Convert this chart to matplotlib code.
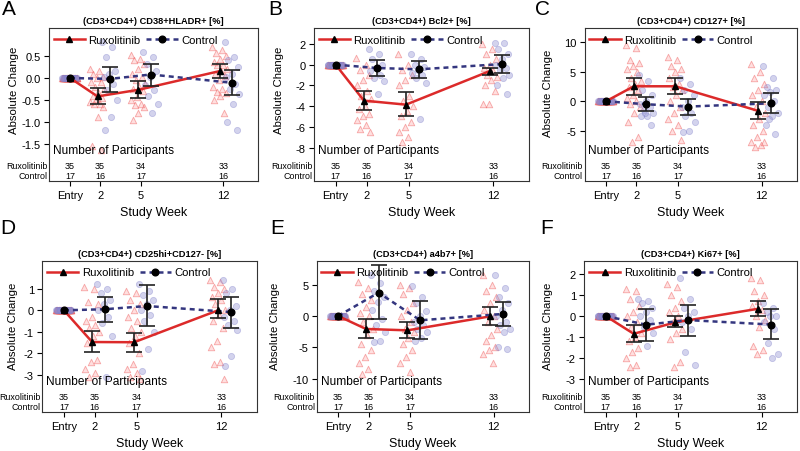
import matplotlib
matplotlib.use("Agg")
import matplotlib.pyplot as plt
import matplotlib.transforms as mtransforms
from matplotlib.lines import Line2D
import numpy as np

plt.rcParams['font.family'] = ['Liberation Sans', 'DejaVu Sans']
plt.rcParams['axes.unicode_minus'] = False

# ---- data ----
week_labels = ['Entry', '2', '5', '12']
n_rux = [35, 35, 34, 33]
n_ctl = [17, 16, 17, 16]

titles = ['(CD3+CD4+) CD38+HLADR+ [%]', '(CD3+CD4+) Bcl2+ [%]', '(CD3+CD4+) CD127+ [%]',
          '(CD3+CD4+) CD25hi+CD127- [%]', '(CD3+CD4+) a4b7+ [%]', '(CD3+CD4+) Ki67+ [%]']
letters = ['A', 'B', 'C', 'D', 'E', 'F']

yticks_A = ['0.5', '0.0', '-0.5', '-1.0', '-1.5']
yticks_B = ['2', '0', '-2', '-4', '-6', '-8']
yticks_C = ['10', '5', '0', '-5']
yticks_D = ['1', '0', '-1', '-2', '-3']
yticks_E = ['5', '0', '-5', '-10']
yticks_F = ['2', '1', '0', '-1', '-2', '-3']

# mean, lower, upper (Entry, wk2, wk5, wk12)
rux_A = [[0, -0.42, -0.27, 0.16], [0, -0.60, -0.46, 0.01], [0, -0.235, -0.07, 0.33]]
ctl_A = [[0, -0.02, 0.08, -0.11], [0, -0.31, -0.19, -0.38], [0, 0.26, 0.33, 0.18]]
rux_B = [[0, -3.47, -3.86, -0.61], [0, -4.38, -4.95, -1.03], [0, -2.54, -2.67, -0.30]]
ctl_B = [[0, -0.32, -0.45, 0.06], [0, -1.13, -1.29, -0.80], [0, 0.45, 0.32, 0.90]]
rux_C = [[0, 2.55, 2.55, -1.64], [0, 1.13, 1.25, -3.0], [0, 3.9, 3.9, -0.17]]
ctl_C = [[0, -0.5, -0.9, -0.34], [0, -1.64, -2.32, -2.04], [0, 0.8, 0.45, 1.47]]
rux_D = [[0, -1.47, -1.48, 0.0], [0, -1.95, -1.95, -0.37], [0, -0.96, -1.07, 0.53]]
ctl_D = [[0, 0.05, 0.2, -0.08], [0, -0.53, -0.74, -0.8], [0, 0.62, 1.16, 0.6]]
rux_E = [[0, -2.07, -2.29, -0.05], [0, -3.56, -3.46, -1.44], [0, -0.53, -1.0, 1.44]]
ctl_E = [[0, 3.72, -0.69, 0.32], [0, -0.48, -3.72, -1.6], [0, 8.1, 2.39, 2.29]]
rux_F = [[0, -0.84, -0.30, 0.35], [0, -1.22, -0.54, 0.0], [0, -0.43, 0.02, 0.71]]
ctl_F = [[0, -0.41, -0.19, -0.40], [0, -1.2, -0.95, -1.11], [0, 0.36, 0.55, 0.32]]

# individual participant changes at weeks 2, 5, 12 (approximate readings)
rux_pts_A = [[0.2, 0.17, 0.1, 0.02, 0.0, -0.09, -0.1, -0.2, -0.25, -0.32, -0.4, -0.45, -0.47, -0.55, -0.59, -0.6, -0.66, -0.89, -1.55, -1.65],
             [0.52, 0.44, 0.4, 0.33, 0.21, 0.1, 0.02, -0.05, -0.13, -0.2, -0.24, -0.3, -0.43, -0.5, -0.59, -0.62, -0.66, -0.81, -0.97],
             [0.71, 0.63, 0.56, 0.5, 0.44, 0.37, 0.3, 0.29, 0.21, 0.15, 0.1, 0.05, -0.05, -0.2, -0.25, -0.32, -0.35, -0.4, -0.51, -0.81]]
ctl_pts_A = [[0.82, 0.71, 0.48, 0.17, 0.1, 0.02, -0.13, -0.28, -0.51, -0.89, -1.19],
             [0.6, 0.48, 0.33, 0.17, 0.02, -0.17, -0.28, -0.4, -0.59, -0.81],
             [0.82, 0.48, 0.4, 0.25, 0.1, 0.02, -0.13, -0.24, -0.36, -0.59, -1.0, -1.19]]
rux_pts_B = [[0.6, 0.0, -0.5, -1.0, -1.5, -2.0, -2.5, -3.0, -3.3, -4.0, -4.3, -4.8, -5.0, -5.3, -5.8, -6.2, -6.5],
             [1.0, 0.0, -0.5, -1.0, -1.5, -2.0, -3.0, -3.5, -4.0, -4.5, -5.0, -5.5, -6.0, -6.5, -7.0, -7.5],
             [2.0, 1.5, 1.0, 0.5, 0.0, -0.3, -0.6, -1.0, -1.2, -1.5, -2.0, -2.5, -3.8, -3.8]]
ctl_pts_B = [[1.5, 1.0, 0.5, 0.0, -0.3, -0.6, -1.0, -1.3, -1.6, -2.8],
             [1.0, 0.5, 0.0, -0.2, -0.5, -0.8, -1.0, -1.3, -1.8, -5.2],
             [2.1, 2.1, 1.5, 1.0, 0.5, 0.0, -0.3, -0.5, -1.0, -1.3, -2.0, -2.8]]
rux_pts_C = [[9.5, 9.0, 7.0, 6.5, 6.0, 5.5, 5.0, 4.0, 3.5, 3.0, 2.5, 2.0, 1.0, 0.5, 0.0, -0.5, -1.0, -2.0, -3.5, -6.0, -7.0],
             [7.5, 7.0, 6.0, 5.5, 5.0, 4.0, 3.0, 2.5, 2.0, 1.0, 0.0, -1.0, -2.0, -3.0, -4.0, -5.0, -6.5],
             [6.3, 5.0, 4.0, 3.0, 2.0, 1.0, 0.0, -1.0, -2.0, -3.0, -4.0, -5.0, -6.0, -7.0, -7.5, -7.8, -7.0]]
ctl_pts_C = [[4.5, 3.5, 2.0, 1.0, 0.0, -0.5, -1.0, -1.5, -2.0, -2.5, -2.5, -4.0, -2.0],
             [4.0, 3.0, 2.0, 1.0, 0.0, -1.0, -2.0, -2.5, -3.5, -5.0, -5.3],
             [6.0, 4.0, 2.5, 2.0, 1.5, 1.0, 0.0, -1.0, -2.0, -2.5, -4.0, -5.5, -3.0]]
rux_pts_D = [[1.1, 1.0, 0.4, 0.3, -0.3, -0.5, -0.7, -0.8, -1.0, -1.2, -1.5, -2.3, -2.4, -2.7, -2.9, -3.1],
             [0.9, 0.8, 0.5, 0.3, 0.0, -0.3, -0.5, -0.8, -1.0, -1.2, -1.5, -2.0, -2.5, -2.7, -2.9, -3.1, -3.2],
             [1.4, 1.3, 1.1, 1.0, 0.8, 0.6, 0.5, 0.3, 0.0, -0.2, -0.5, -0.8, -1.4, -1.7, -2.4, -2.5, -3.2]]
ctl_pts_D = [[1.2, 1.0, 0.8, 0.5, 0.3, 0.0, -0.3, -0.6, -1.2, -3.1],
             [1.2, 0.9, 0.7, 0.5, 0.3, 0.0, -0.2, -0.5, -1.0, -1.8, -2.8],
             [1.4, 1.0, 0.8, 0.2, 0.0, -0.3, -0.5, -0.7, -0.9, -2.1, -2.6]]
rux_pts_E = [[5.5, 4.5, 3.5, 2.5, 1.5, 0.5, 0.0, -1.0, -2.0, -3.0, -4.5, -5.5, -6.5, -7.5, -8.5, -9.2],
             [5.0, 4.5, 3.5, 2.0, 1.0, 0.0, -1.0, -2.0, -2.5, -3.5, -4.5, -5.5, -6.5, -7.5, -9.0],
             [6.5, 5.0, 4.0, 3.0, 2.0, 1.0, 0.0, -1.0, -2.0, -3.0, -4.0, -5.0, -5.5, -6.0, -7.5]]
ctl_pts_E = [[6.5, 5.3, 4.0, 3.0, 2.3, 1.0, -0.5, -1.5, -2.5, -4.0, -4.2],
             [4.8, 3.0, 2.0, 0.8, 0.0, -1.0, -1.5, -2.0, -2.5, -3.5, -4.0],
             [6.5, 4.5, 3.0, 2.0, 1.0, 0.0, -1.0, -1.5, -2.0, -2.5, -5.0, -5.3]]
rux_pts_F = [[1.3, 1.2, 0.8, 0.5, 0.2, 0.0, -0.3, -0.5, -0.8, -1.0, -1.2, -1.5, -1.7, -2.0, -2.3, -2.4],
             [1.5, 1.4, 1.0, 0.7, 0.4, 0.2, 0.0, -0.3, -0.6, -0.8, -1.1, -2.2, -2.4],
             [1.8, 1.7, 1.2, 1.0, 0.7, 0.5, 0.3, 0.0, -0.2, -0.5, -1.4, -1.6, -1.8]]
ctl_pts_F = [[0.8, 0.7, 0.6, 0.4, 0.2, 0.0, -0.2, -0.5, -0.8, -1.4],
             [1.8, 0.8, 0.4, 0.2, 0.0, -0.3, -0.6, -1.7, -2.3],
             [0.6, 0.4, 0.2, 0.0, 0.0, -0.3, -0.6, -1.3, -1.8, -2.0]]

panels = [
    (yticks_A, rux_A, ctl_A, rux_pts_A, ctl_pts_A),
    (yticks_B, rux_B, ctl_B, rux_pts_B, ctl_pts_B),
    (yticks_C, rux_C, ctl_C, rux_pts_C, ctl_pts_C),
    (yticks_D, rux_D, ctl_D, rux_pts_D, ctl_pts_D),
    (yticks_E, rux_E, ctl_E, rux_pts_E, ctl_pts_E),
    (yticks_F, rux_F, ctl_F, rux_pts_F, ctl_pts_F),
]

# ---- layout (pixels of an 800x452 canvas) ----
W, H = 800, 452
frames = [(49, 258, 29.3, 181.7), (314, 529, 29.3, 181.7), (584.5, 797, 29.3, 181.7),
          (42.3, 257, 261.7, 412.7), (316.7, 529, 261.7, 412.7), (584.3, 797, 261.7, 412.7)]
ylims = [(-2.345, 1.135), (-11.2, 3.51), (-13.49, 12.4), (-4.70, 2.30), (-15.27, 8.82), (-4.54, 2.63)]
ylabel_xy = [(14.3, 90), (279.3, 90), (548.3, 93), (12.7, 326), (275, 326), (548.3, 326)]
letter_xy = [(1.5, 0), (268.5, 0), (535, 0), (0.5, 219), (270.5, 219), (540.5, 219)]

x_pos = np.array([0, 2.35, 5.55, 12])
rux_x = x_pos + np.array([0, -0.2, -0.2, -0.25])
ctl_x = x_pos + np.array([0, 0.77, 0.78, 0.7])

red = '#dc2a2a'
navy = '#34367f'
rux_face = (1.0, 0.55, 0.55, 0.28)
rux_edge = (0.93, 0.35, 0.35, 0.5)
ctl_face = (0.55, 0.55, 0.82, 0.38)
ctl_edge = (0.5, 0.5, 0.8, 0.4)


def jitter(n, half):
    # spread points evenly (golden-ratio sequence) across the jitter band
    return ((np.arange(n) * 0.618034) % 1.0 - 0.5) * 2 * half


fig = plt.figure(figsize=(W / 100, H / 100), dpi=100)

for i, (yt, rux, ctl, rpts, cpts) in enumerate(panels):
    l, r, t, b = frames[i]
    ax = fig.add_axes([l / W, 1 - b / H, (r - l) / W, (b - t) / H])
    ax.set_xlim(-1.65, 14.72)
    ax.set_ylim(*ylims[i])

    # individual points
    ax.scatter(jitter(n_rux[0], 0.6), np.zeros(n_rux[0]), marker='^', s=22,
               facecolor=rux_face, edgecolor=rux_edge, linewidth=0.6, zorder=1)
    ax.scatter(jitter(n_ctl[0], 0.6), np.zeros(n_ctl[0]), marker='o', s=20,
               facecolor=ctl_face, edgecolor=ctl_edge, linewidth=0.6, zorder=1)
    for k in range(3):
        rv = np.array(rpts[k])
        cv = np.array(cpts[k])
        ax.scatter(rux_x[k + 1] + jitter(len(rv), 0.6), rv, marker='^', s=22,
                   facecolor=rux_face, edgecolor=rux_edge, linewidth=0.6, zorder=1)
        ax.scatter(ctl_x[k + 1] + jitter(len(cv), 0.6), cv, marker='o', s=20,
                   facecolor=ctl_face, edgecolor=ctl_edge, linewidth=0.6, zorder=1)

    # mean lines
    rm, rlo, rhi = [np.array(v) for v in rux]
    cm, clo, chi = [np.array(v) for v in ctl]
    ax.plot(rux_x, rm, color=red, lw=1.8, zorder=2)
    ax.plot(ctl_x, cm, color=navy, lw=1.8, linestyle=(0, (2.0, 1.6)), zorder=2)

    # error bars
    ax.errorbar(rux_x[1:], rm[1:], yerr=[rm[1:] - rlo[1:], rhi[1:] - rm[1:]], fmt='none',
                ecolor='#222222', elinewidth=1.2, capsize=5.5, capthick=1.2, zorder=3)
    ax.errorbar(ctl_x[1:], cm[1:], yerr=[cm[1:] - clo[1:], chi[1:] - cm[1:]], fmt='none',
                ecolor='#222222', elinewidth=1.2, capsize=5.5, capthick=1.2, zorder=3)
    ax.plot(rux_x, rm, linestyle='none', marker='^', ms=4.6, color='black', zorder=4)
    ax.plot(ctl_x, cm, linestyle='none', marker='o', ms=4.8, color='black', zorder=4)

    # axes styling
    yvals = [float(v) for v in yt]
    ax.set_yticks(yvals)
    ax.set_yticklabels(yt)
    ax.set_xticks(x_pos)
    ax.set_xticklabels(week_labels)
    ax.tick_params(axis='both', labelsize=8, length=3.5, width=0.8, pad=2.5)
    ax.tick_params(axis='x', pad=3.5)
    for sp in ax.spines.values():
        sp.set_linewidth(0.8)
        sp.set_color('#333333')

    ax.set_title(titles[i], fontsize=6.7, fontweight='bold', pad=3.5)

    handles = [Line2D([], [], color=red, lw=1.8, marker='^', mfc='black', mec='black', ms=4.6),
               Line2D([], [], color=navy, lw=1.8, linestyle=(0, (2.0, 1.6)), marker='o',
                      mfc='black', mec='black', ms=4.8)]
    ax.legend(handles, ['Ruxolitinib', 'Control'], loc='upper left', ncol=2, frameon=False,
              fontsize=8.1, handlelength=2.8, handletextpad=0.3, columnspacing=0.5,
              borderaxespad=0.2, bbox_to_anchor=(-0.01, 1.0))

    # participant table inside the frame
    trans = mtransforms.blended_transform_factory(ax.transData, ax.transAxes)
    ax.text(0.018, 0.203, 'Number of Participants', transform=ax.transAxes,
            fontsize=8.6, ha='left', va='center')
    for k in range(4):
        ax.text(x_pos[k], 0.103, str(n_rux[k]), transform=trans, fontsize=6.5, ha='center', va='center')
        ax.text(x_pos[k], 0.037, str(n_ctl[k]), transform=trans, fontsize=6.5, ha='center', va='center')
    ax.text(-0.008, 0.103, 'Ruxolitinib', transform=ax.transAxes, fontsize=6.4, ha='right', va='center')
    ax.text(-0.008, 0.037, 'Control', transform=ax.transAxes, fontsize=6.4, ha='right', va='center')

    # axis labels
    ax.text(0.5, -(31.5 / (b - t)), 'Study Week', transform=ax.transAxes,
            fontsize=9, ha='center', va='center')
    lx, ly = ylabel_xy[i]
    fig.text(lx / W, 1 - ly / H, 'Absolute Change', rotation=90, fontsize=8.2,
             ha='center', va='center')

    # panel letter
    px, py = letter_xy[i]
    fig.text(px / W, 1 - py / H, letters[i], fontsize=15, ha='left', va='top')

fig.savefig('out.png', dpi=100)
